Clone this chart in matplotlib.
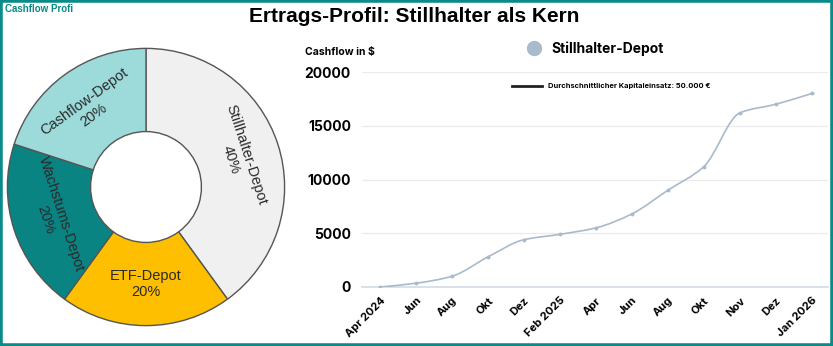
import numpy as np
import matplotlib
matplotlib.use('Agg')
from matplotlib import pyplot as plt
from matplotlib.path import Path
from matplotlib.patches import PathPatch, Rectangle
from matplotlib.lines import Line2D

# donut data
depots = ['Stillhalter-Depot', 'ETF-Depot', 'Wachstums-Depot', 'Cashflow-Depot']
shares = [40, 20, 20, 20]
depot_colors = ['#f0f0f0', '#fdbf00', '#0a8383', '#9ddada']

# cashflow line data
months = ['Apr 2024', 'Jun', 'Aug', 'Okt', 'Dez', 'Feb 2025', 'Apr', 'Jun',
          'Aug', 'Okt', 'Nov', 'Dez', 'Jan 2026']
cashflow = [0, 350, 1000, 2800, 4400, 4900, 5500, 6800, 9000, 11200, 16200, 17000, 18000]

LINE_COL = '#a9bacb'
TEAL = '#0b8a8a'


def monotone_path(x, y):
    # Fritsch-Carlson tangents -> cubic bezier path (only for drawing)
    x = np.asarray(x, float)
    y = np.asarray(y, float)
    h = np.diff(x)
    d = np.diff(y) / h
    m = np.zeros_like(y)
    m[0], m[-1] = d[0], d[-1]
    for k in range(1, len(y) - 1):
        if d[k - 1] * d[k] <= 0:
            m[k] = 0
        else:
            w1 = 2 * h[k] + h[k - 1]
            w2 = h[k] + 2 * h[k - 1]
            m[k] = (w1 + w2) / (w1 / d[k - 1] + w2 / d[k])
    verts = [(x[0], y[0])]
    codes = [Path.MOVETO]
    for k in range(len(x) - 1):
        verts += [(x[k] + h[k] / 3, y[k] + m[k] * h[k] / 3),
                  (x[k + 1] - h[k] / 3, y[k + 1] - m[k + 1] * h[k] / 3),
                  (x[k + 1], y[k + 1])]
        codes += [Path.CURVE4] * 3
    return Path(verts, codes)


fig = plt.figure(figsize=(8.33, 3.46), dpi=100)
fig.patch.set_facecolor('white')

# frame + headers
fig.patches.append(Rectangle((0, 0), 1, 1, transform=fig.transFigure, fill=False,
                             edgecolor=TEAL, linewidth=4, zorder=10))
fig.text(0.497, 0.952, 'Ertrags-Profil: Stillhalter als Kern', ha='center', va='center',
         fontsize=15, fontweight='bold', family='Liberation Sans')
fig.text(0.006, 0.975, 'Cashflow Profi', ha='left', va='center', fontsize=7,
         fontweight='bold', color=TEAL, family='Liberation Sans')

# donut
ax1 = fig.add_axes([6 / 833, 19 / 346, 280 / 833, 280 / 346])
wedges, _ = ax1.pie(shares, colors=depot_colors, startangle=90, counterclock=False,
                    radius=1, wedgeprops=dict(width=0.6, edgecolor='#555555', linewidth=1))
ax1.set_xlim(-1.01, 1.01)
ax1.set_ylim(-1.01, 1.01)
ax1.set_aspect('equal')
for w, name, s in zip(wedges, depots, shares):
    mid = np.deg2rad((w.theta1 + w.theta2) / 2)
    rot = np.rad2deg(mid) - 90
    while rot > 90:
        rot -= 180
    while rot < -90:
        rot += 180
    ax1.text(0.7 * np.cos(mid), 0.7 * np.sin(mid), f'{name}\n{s}%', ha='center', va='center',
             rotation=rot, rotation_mode='anchor', fontsize=10.5, color='#2a2a2a',
             family='Liberation Sans', linespacing=1.2)

# line chart
ax2 = fig.add_axes([362 / 833, 59 / 346, 466 / 833, 215 / 346])
xs = np.arange(len(months))
ax2.add_patch(PathPatch(monotone_path(xs, cashflow), fill=False, edgecolor=LINE_COL,
                        linewidth=1.2, zorder=3))
ax2.plot(xs, cashflow, ls='', marker='o', markersize=1.8, color=LINE_COL, zorder=4)
ax2.set_xlim(-0.5, 12.45)
ax2.set_ylim(0, 20000)
ax2.set_yticks([0, 5000, 10000, 15000, 20000])
ax2.set_xticks(xs)
ax2.set_xticklabels(months, rotation=45, ha='right', rotation_mode='anchor',
                    fontsize=8, fontweight='bold', family='Inter')
for lbl in ax2.get_yticklabels():
    lbl.set_fontsize(10)
    lbl.set_fontweight('bold')
    lbl.set_family('Inter')
ax2.tick_params(axis='both', length=0)
ax2.tick_params(axis='y', pad=8)
ax2.tick_params(axis='x', pad=6)
ax2.grid(axis='y', color='#ebebeb', linewidth=0.9)
ax2.set_axisbelow(True)
for sp in ['top', 'right', 'left']:
    ax2.spines[sp].set_visible(False)
ax2.spines['bottom'].set_color('#d4dbe3')
ax2.spines['bottom'].set_linewidth(1.2)

fig.text(305 / 833, 1 - 52 / 346, 'Cashflow in $', ha='left', va='center', fontsize=7.5,
         fontweight='bold', family='Inter')

leg1 = ax2.legend(handles=[Line2D([], [], ls='', marker='o', markersize=10, color=LINE_COL)],
                  labels=['Stillhalter-Depot'], loc='center', frameon=False,
                  bbox_to_anchor=(592 / 833, 1 - 49 / 346), bbox_transform=fig.transFigure,
                  prop=dict(family='Inter', weight='bold', size=10), handletextpad=0.3)
ax2.add_artist(leg1)
ax2.legend(handles=[Line2D([], [], color='#222222', linewidth=2)],
           labels=['Durchschnittlicher Kapitaleinsatz: 50.000 €'], loc='center', frameon=False,
           bbox_to_anchor=(611 / 833, 1 - 86 / 346), bbox_transform=fig.transFigure,
           prop=dict(family='Inter', weight='bold', size=5.4), handlelength=4.0,
           handletextpad=0.8)

fig.savefig('out.png', dpi=100, facecolor='white')
